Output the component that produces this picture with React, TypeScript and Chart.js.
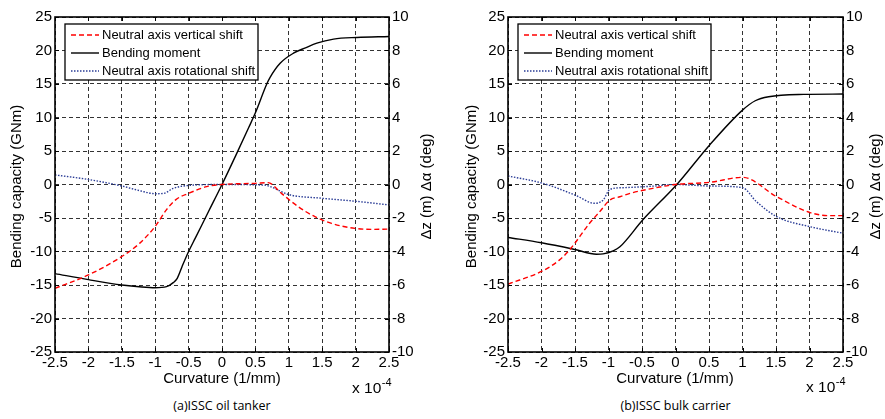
import React, { useEffect, useRef } from 'react';
import { Chart, registerables } from 'chart.js';

Chart.register(...registerables);

// ---------- shared axis data ----------
const xTicks = [-2.5, -2, -1.5, -1, -0.5, 0, 0.5, 1, 1.5, 2, 2.5];
const xTickLabels = ['-2.5', '-2', '-1.5', '-1', '-0.5', '0', '0.5', '1', '1.5', '2', '2.5'];
const momentTicks = [-25, -20, -15, -10, -5, 0, 5, 10, 15, 20, 25];
const shiftTicks = [-10, -8, -6, -4, -2, 0, 2, 4, 6, 8, 10];
const seriesLabels = ['Neutral axis vertical shift', 'Bending moment', 'Neutral axis rotational shift'];
const xTitle = 'Curvature (1/mm)';
const yTitle = 'Bending capacity (GNm)';
const y2Title = 'Δz (m) Δα (deg)';
const captions = ['(a)ISSC oil tanker', '(b)ISSC bulk carrier'];

// ---------- (a) ISSC oil tanker ----------
const tankerMomentCurv = [-2.5, -2, -1.5, -1.2, -1, -0.83, -0.73, -0.67, -0.6, -0.5, -0.4, -0.2, 0, 0.2, 0.4, 0.5, 0.67, 0.72, 0.87, 1.07, 1.25, 1.42, 1.67, 2.02, 2.5];
const tankerMoment = [-13.3, -14.2, -15.0, -15.3, -15.4, -15.25, -14.65, -14.0, -12.3, -10.0, -8.0, -4.0, 0, 4.2, 8.5, 10.7, 15.0, 16.0, 18.1, 19.6, 20.4, 21.1, 21.7, 21.95, 22.1];
const tankerVertCurv = [-2.5, -2, -1.5, -1.23, -1, -0.83, -0.69, -0.5, -0.23, 0, 0.3, 0.5, 0.69, 0.89, 1.14, 1.39, 1.64, 1.99, 2.25, 2.5];
const tankerVertShift = [-6.2, -5.4, -4.3, -3.5, -2.5, -1.5, -0.9, -0.53, -0.13, 0, 0.05, 0.07, 0.11, -0.53, -1.32, -1.92, -2.32, -2.62, -2.68, -2.66];
const tankerRotCurv = [-2.5, -2, -1.5, -1.23, -1, -0.87, -0.73, -0.48, 0, 0.64, 0.72, 0.99, 1.49, 2.0, 2.5];
const tankerRotShift = [0.57, 0.3, -0.09, -0.37, -0.55, -0.53, -0.23, -0.05, 0, -0.04, -0.12, -0.59, -0.82, -1.0, -1.22];

// ---------- (b) ISSC bulk carrier ----------
const bulkMomentCurv = [-2.5, -2, -1.5, -1.18, -1.08, -0.93, -0.83, -0.49, 0.02, 0.51, 1.0, 1.19, 1.39, 1.91, 2.5];
const bulkMoment = [-7.9, -8.7, -9.7, -10.4, -10.35, -9.9, -9.3, -5.3, 0, 5.9, 11.1, 12.5, 13.1, 13.45, 13.5];
const bulkVertCurv = [-2.5, -1.98, -1.73, -1.58, -1.28, -1.13, -0.98, -0.83, -0.68, -0.34, 0, 0.51, 1.0, 1.51, 2.01, 2.31, 2.5];
const bulkVertShift = [-5.95, -5.15, -4.5, -3.9, -2.3, -1.62, -0.93, -0.73, -0.53, -0.23, 0, 0.13, 0.43, -0.73, -1.68, -1.86, -1.86];
const bulkRotCurv = [-2.5, -1.98, -1.5, -1.21, -1.08, -0.98, -0.78, -0.34, 0, 0.51, 1.0, 1.21, 1.51, 2.01, 2.5];
const bulkRotShift = [0.51, 0.07, -0.63, -1.12, -0.93, -0.29, -0.19, -0.1, 0, -0.09, -0.19, -1.03, -1.92, -2.52, -2.91];

const FONT = "'Liberation Sans', Arial, Helvetica, sans-serif";
const GRID = 'rgba(0,0,0,0.8)';
const CANVAS_H = 395;

const toXY = (xs: number[], ys: number[]) => xs.map((x, i) => ({ x, y: ys[i] }));

type Geom = {
  plotLeft: number;
  plotRight: number;
  yTitleX: number;
  y2TitleX: number;
  xTitleX: number;
  expX: number;
  expY: number;
};

const framePlugin = {
  id: 'frame',
  afterDraw(chart: any, _args: any, opts: any) {
    const { ctx, chartArea: a } = chart;
    const xs = chart.scales.x;
    const ys = chart.scales.y;
    ctx.save();
    ctx.setLineDash([]);
    ctx.strokeStyle = '#000';
    ctx.lineWidth = 1;
    const seg = (x1: number, y1: number, x2: number, y2: number) => {
      ctx.beginPath();
      ctx.moveTo(x1, y1);
      ctx.lineTo(x2, y2);
      ctx.stroke();
    };
    xs.ticks.forEach((t: any) => {
      const px = Math.round(xs.getPixelForValue(t.value)) + 0.5;
      seg(px, a.bottom, px, a.bottom - 4);
      seg(px, a.top, px, a.top + 4);
    });
    ys.ticks.forEach((t: any) => {
      const py = Math.round(ys.getPixelForValue(t.value)) + 0.5;
      seg(a.left, py, a.left + 4, py);
      seg(a.right - 4, py, a.right, py);
    });
    ctx.lineWidth = 1.6;
    ctx.strokeRect(a.left, a.top, a.right - a.left, a.bottom - a.top);

    // legend
    const lx = a.left + 10;
    const ly = a.top + 7;
    const lw = 193;
    const lh = 56;
    ctx.fillStyle = '#fff';
    ctx.fillRect(lx, ly, lw, lh);
    ctx.lineWidth = 1.3;
    ctx.strokeStyle = '#000';
    ctx.strokeRect(lx, ly, lw, lh);
    ctx.font = `13px ${FONT}`;
    ctx.textBaseline = 'middle';
    ctx.textAlign = 'left';
    chart.data.datasets.forEach((ds: any, i: number) => {
      const ry = ly + 11 + i * 18;
      ctx.strokeStyle = ds.borderColor;
      ctx.lineWidth = ds.borderWidth;
      ctx.setLineDash(ds.borderDash || []);
      seg(lx + 6, ry, lx + 34, ry);
      ctx.setLineDash([]);
      ctx.fillStyle = '#000';
      ctx.fillText(ds.label, lx + 37, ry);
    });

    // axis titles
    ctx.fillStyle = '#000';
    ctx.font = `15px ${FONT}`;
    ctx.textAlign = 'center';
    ctx.textBaseline = 'middle';
    const cy = (a.top + a.bottom) / 2 + 2;
    ctx.save();
    ctx.translate(opts.yTitleX, cy);
    ctx.rotate(-Math.PI / 2);
    ctx.fillText(yTitle, 0, 0);
    ctx.restore();
    ctx.save();
    ctx.translate(opts.y2TitleX, cy);
    ctx.rotate(-Math.PI / 2);
    ctx.fillText(y2Title, 0, 0);
    ctx.restore();
    ctx.fillText(xTitle, opts.xTitleX, 379);

    // exponent
    ctx.textAlign = 'left';
    ctx.textBaseline = 'alphabetic';
    ctx.font = `15.5px ${FONT}`;
    const base = 'x 10';
    ctx.fillText(base, opts.expX, opts.expY);
    const w = ctx.measureText(base).width;
    ctx.font = `11px ${FONT}`;
    ctx.fillText('-4', opts.expX + w + 0.5, opts.expY - 7);
    ctx.restore();
  },
};

function Panel(props: {
  left: number;
  width: number;
  geom: Geom;
  caption: string;
  mCurv: number[];
  moment: number[];
  vCurv: number[];
  vShift: number[];
  rCurv: number[];
  rShift: number[];
}) {
  const ref = useRef<HTMLCanvasElement>(null);
  const { left, width, geom } = props;

  useEffect(() => {
    if (!ref.current) return;
    const tickFont = { family: FONT, size: 15 };
    const chart = new Chart(ref.current, {
      type: 'line',
      data: {
        datasets: [
          {
            label: seriesLabels[0],
            data: toXY(props.vCurv, props.vShift),
            yAxisID: 'y1',
            borderColor: '#ff0000',
            borderDash: [5, 3],
            borderWidth: 1.4,
            pointRadius: 0,
            fill: false,
            cubicInterpolationMode: 'monotone',
          },
          {
            label: seriesLabels[1],
            data: toXY(props.mCurv, props.moment),
            yAxisID: 'y',
            borderColor: '#000000',
            borderWidth: 1.4,
            pointRadius: 0,
            fill: false,
            cubicInterpolationMode: 'monotone',
          },
          {
            label: seriesLabels[2],
            data: toXY(props.rCurv, props.rShift),
            yAxisID: 'y1',
            borderColor: '#2a3c96',
            borderDash: [1.5, 1.5],
            borderWidth: 1.4,
            pointRadius: 0,
            fill: false,
            cubicInterpolationMode: 'monotone',
          },
        ],
      } as any,
      options: {
        responsive: false,
        animation: false,
        events: [],
        layout: { padding: { top: 17, left: 0, right: 0, bottom: 0 } },
        plugins: {
          legend: { display: false },
          tooltip: { enabled: false },
          frame: geom,
        } as any,
        scales: {
          x: {
            type: 'linear',
            min: -2.5,
            max: 2.5,
            afterBuildTicks: (s: any) => {
              s.ticks = xTicks.map((v) => ({ value: v }));
            },
            afterFit: (s: any) => {
              s.height = CANVAS_H - 352;
            },
            ticks: {
              autoSkip: false,
              maxRotation: 0,
              padding: 2,
              color: '#000',
              font: tickFont,
              callback: (v: any) => {
                const i = xTicks.indexOf(Number(v));
                return i >= 0 ? xTickLabels[i] : '';
              },
            },
            grid: { color: GRID, lineWidth: 1, drawTicks: false },
            border: { display: false, dash: [4, 3] },
          },
          y: {
            type: 'linear',
            position: 'left',
            min: -25,
            max: 25,
            afterBuildTicks: (s: any) => {
              s.ticks = momentTicks.map((v) => ({ value: v }));
            },
            afterFit: (s: any) => {
              s.width = geom.plotLeft;
            },
            ticks: {
              padding: 3,
              color: '#000',
              font: tickFont,
              callback: (v: any) => String(v),
            },
            grid: { color: GRID, lineWidth: 1, drawTicks: false },
            border: { display: false, dash: [4, 3] },
          },
          y1: {
            type: 'linear',
            position: 'right',
            min: -10,
            max: 10,
            afterBuildTicks: (s: any) => {
              s.ticks = shiftTicks.map((v) => ({ value: v }));
            },
            afterFit: (s: any) => {
              s.width = width - geom.plotRight;
            },
            ticks: {
              padding: 3,
              color: '#000',
              font: tickFont,
              callback: (v: any) => String(v),
            },
            grid: { display: false, drawTicks: false },
            border: { display: false },
          },
        },
      } as any,
      plugins: [framePlugin],
    });
    return () => chart.destroy();
  }, []);

  const plotCenter = (geom.plotLeft + geom.plotRight) / 2;
  return (
    <div style={{ position: 'absolute', left, top: 0, width, height: 419 }}>
      <canvas ref={ref} width={width} height={CANVAS_H} style={{ display: 'block' }} />
      <div
        style={{
          position: 'absolute',
          left: plotCenter - 120,
          width: 240,
          top: 398,
          height: 16,
          lineHeight: '16px',
          textAlign: 'center',
          fontFamily: "'Open Sans', 'Noto Sans', sans-serif",
          fontSize: '12.5px',
          color: '#000',
          whiteSpace: 'nowrap',
        }}
      >
        {props.caption}
      </div>
    </div>
  );
}

export default function App() {
  return (
    <div style={{ position: 'absolute', left: 0, top: 0, width: 885, height: 419, background: '#fff', overflow: 'hidden' }}>
      <Panel
        left={0}
        width={445}
        geom={{ plotLeft: 55, plotRight: 389, yTitleX: 17, y2TitleX: 427, xTitleX: 222, expX: 352, expY: 393 }}
        caption={captions[0]}
        mCurv={tankerMomentCurv}
        moment={tankerMoment}
        vCurv={tankerVertCurv}
        vShift={tankerVertShift}
        rCurv={tankerRotCurv}
        rShift={tankerRotShift}
      />
      <Panel
        left={445}
        width={440}
        geom={{ plotLeft: 63, plotRight: 398, yTitleX: 27, y2TitleX: 431, xTitleX: 230, expX: 361, expY: 392 }}
        caption={captions[1]}
        mCurv={bulkMomentCurv}
        moment={bulkMoment}
        vCurv={bulkVertCurv}
        vShift={bulkVertShift}
        rCurv={bulkRotCurv}
        rShift={bulkRotShift}
      />
    </div>
  );
}
